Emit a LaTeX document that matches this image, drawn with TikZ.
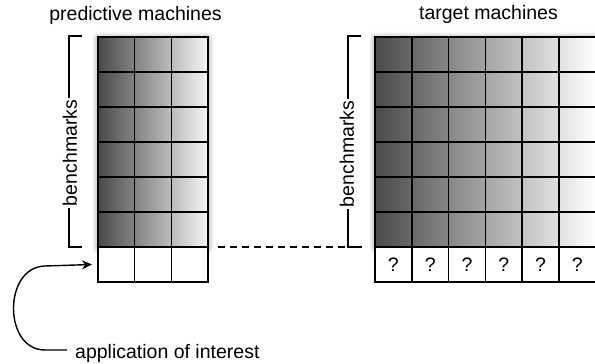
\documentclass[tikz,border=0pt]{standalone}
\usepackage{fontspec}
\setmainfont{Liberation Sans}
\usetikzlibrary{arrows.meta,shadows.blur}
\tikzset{
  txt/.style={font=\fontsize{19.5}{23}\selectfont, inner sep=0pt},
  gridline/.style={line width=1.6pt},
  brace/.style={line width=1.4pt},
  shadebox/.style={left color=black!71, right color=black!4,
    blur shadow={shadow xshift=0pt, shadow yshift=-1pt, shadow blur radius=6pt, shadow opacity=50}},
}
\begin{document}
\begin{tikzpicture}[x=1pt, y=1pt]
  \useasboundingbox (0, 0) rectangle (595, 364);

  \path[shadebox] (98, 117) rectangle (208, 327);
  \fill[white] (98, 82) rectangle (208, 117);
  \draw[gridline, shift={(98, 82)}] (0, 0) grid[xstep=36.666, ystep=35] (110, 245);
  \draw[gridline] (98, 82) rectangle (208, 327);

  \path[shadebox, right color=white] (375, 117) rectangle (596, 327);
  \fill[white] (375, 82) rectangle (596, 117);
  \draw[gridline, shift={(375, 82)}] (0, 0) grid[xstep=36.8, ystep=35] (221, 245);
  \draw[gridline] (375, 82) rectangle (596, 327);

  \node[txt, anchor=base] (lhead) at (135.5, 343) {predictive machines};
  \node[txt, anchor=base] (rhead) at (488.5, 344) {target machines};

  \draw[brace] (82, 328) -- (69, 328) -- (69, 117) -- (82, 117);
  \node[txt, rotate=90, fill=white, inner xsep=1.5pt] (lbench) at (70, 211) {benchmarks};
  \draw[brace] (361, 328) -- (348, 328) -- (348, 117) -- (362, 117);
  \node[txt, rotate=90, fill=white, inner xsep=1.5pt] (rbench) at (347, 210) {benchmarks};

  \coordinate (lgrid) at (208, 117);
  \coordinate (rbrace) at (348, 117);
  \draw[line width=1.2pt, dash pattern=on 7pt off 5pt] ([xshift=10pt]lgrid) -- (rbrace);

  \foreach \i in {1,...,6}
    \node[txt] (q\i) at (375 + 36.8*\i - 18.4, 99.5) {?};

  \node[txt, anchor=base west] (app) at (75, 5) {application of interest};
  \coordinate (lrow) at (98, 99.5);
  \draw[brace, -{Stealth[length=10pt, width=9pt]}] ([shift={(-8pt, 9pt)}]app.base west) -- (45, 14)
    .. controls (3, 14) and (3, 97) .. (45, 98) -- ([xshift=-6pt]lrow);
\end{tikzpicture}
\end{document}
